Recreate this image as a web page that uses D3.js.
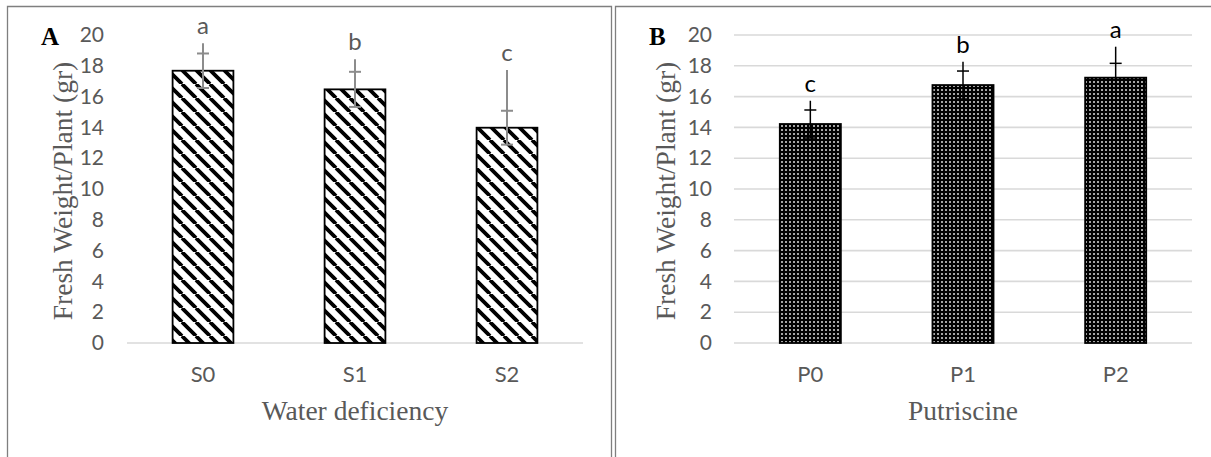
<!DOCTYPE html>
<html>
<head>
<meta charset="utf-8">
<script src="https://cdnjs.cloudflare.com/ajax/libs/d3/7.8.5/d3.min.js"></script>
<style>
  html, body { margin: 0; padding: 0; background: #fff; }
  svg { display: block; }
</style>
</head>
<body>
<svg id="chart" width="1211" height="457"></svg>
<script>
// ---------- data ----------
const yTicks = [0, 2, 4, 6, 8, 10, 12, 14, 16, 18, 20];

const catsA = ["S0", "S1", "S2"];
const valuesA = [17.68, 16.47, 13.98];
const capErrA = [1.12, 1.14, 1.1];
const lineTopA = [19.46, 18.42, 17.73];
const lettersA = ["a", "b", "c"];

const catsB = ["P0", "P1", "P2"];
const valuesB = [14.22, 16.75, 17.23];
const capErrB = [0.91, 0.91, 0.93];
const lineTopB = [15.73, 18.27, 19.24];
const lettersB = ["c", "b", "a"];

const xTitleA = "Water deficiency";
const xTitleB = "Putriscine";
const yTitle = "Fresh Weight/Plant (gr)";

// ---------- drawing ----------
const svg = d3.select("#chart");
const defs = svg.append("defs");

// diagonal hatch pattern (panel A)
const hatch = defs.append("pattern")
  .attr("id", "hatch").attr("patternUnits", "userSpaceOnUse")
  .attr("width", 14).attr("height", 14);
hatch.append("rect").attr("width", 14).attr("height", 14).attr("fill", "#fff");
hatch.append("path")
  .attr("d", "M-14,0 L0,14 M0,0 L14,14 M14,0 L28,14")
  .attr("stroke", "#000").attr("stroke-width", 3.8);

// dotted pattern (panel B)
const dots = defs.append("pattern")
  .attr("id", "dots").attr("patternUnits", "userSpaceOnUse")
  .attr("width", 4).attr("height", 4);
dots.append("rect").attr("width", 4).attr("height", 4).attr("fill", "#000");
dots.append("rect").attr("x", 1.2).attr("y", 1.2).attr("width", 1.6).attr("height", 1.6)
  .attr("fill", "#fff");

// panel borders
const border = svg.append("g").attr("fill", "none");
border.append("path").attr("d", "M7.5,457 L7.5,6.5 L611.5,6.5 L611.5,457")
  .attr("stroke", "#7f7f7f").attr("stroke-width", 1.3);
border.append("path").attr("d", "M615.5,457 L615.5,6.5 L1211,6.5")
  .attr("stroke", "#7f7f7f").attr("stroke-width", 1.3);

const y = d3.scaleLinear().domain([0, 20]).range([343, 35]);

function panel(cfg) {
  const g = svg.append("g");
  const x = d3.scaleBand().domain(cfg.cats).range(cfg.xr)
    .paddingInner(0.6).paddingOuter(0.3);

  // gridlines / baseline
  const gridVals = cfg.grid ? yTicks : [0];
  g.selectAll("line.grid").data(gridVals).join("line")
    .attr("class", "grid")
    .attr("x1", cfg.xr[0]).attr("x2", cfg.xr[1])
    .attr("y1", d => y(d)).attr("y2", d => y(d))
    .attr("stroke", "#d9d9d9").attr("stroke-width", 1.6);

  // y axis labels
  const yAxis = d3.axisLeft(y).tickValues(yTicks).tickSize(0).tickPadding(cfg.xr[0] - cfg.labelRight);
  const ya = g.append("g").attr("transform", `translate(${cfg.xr[0]},0)`).call(yAxis);
  ya.select(".domain").remove();
  ya.selectAll("text").attr("fill", "#595959")
    .style("font-family", "Lato, 'Open Sans', sans-serif").style("font-size", "21px");

  // x axis labels
  const xAxis = d3.axisBottom(x).tickSize(0).tickPadding(0);
  const xa = g.append("g").attr("transform", `translate(0,${y(0)})`).call(xAxis);
  xa.select(".domain").remove();
  xa.selectAll("text").attr("fill", "#595959").attr("dy", null).attr("y", 39)
    .style("font-family", "Lato, 'Open Sans', sans-serif").style("font-size", "22px");

  // bars
  g.selectAll("rect.bar").data(cfg.values).join("rect")
    .attr("class", "bar")
    .attr("x", (d, i) => x(cfg.cats[i]))
    .attr("width", x.bandwidth())
    .attr("y", d => y(d))
    .attr("height", d => y(0) - y(d))
    .attr("fill", `url(#${cfg.pattern})`)
    .attr("stroke", "#000").attr("stroke-width", 1.8);

  // error bars
  const eb = g.append("g").attr("stroke", cfg.errColor).attr("stroke-width", cfg.errWidth).attr("fill", "none");
  cfg.values.forEach((v, i) => {
    const cx = x(cfg.cats[i]) + x.bandwidth() / 2;
    const lo = v - cfg.capErr[i], hi = v + cfg.capErr[i];
    eb.append("line").attr("x1", cx).attr("x2", cx)
      .attr("y1", y(lo)).attr("y2", y(Math.max(hi, cfg.lineTop[i])));
    eb.append("line").attr("x1", cx - 6).attr("x2", cx + 6).attr("y1", y(hi)).attr("y2", y(hi));
    eb.append("line").attr("x1", cx - 6).attr("x2", cx + 6).attr("y1", y(lo)).attr("y2", y(lo));
    // significance letters
    g.append("text")
      .attr("x", cx).attr("y", y(cfg.lineTop[i]) - 9)
      .attr("text-anchor", "middle")
      .attr("fill", cfg.letterColor)
      .style("font-family", "Lato, 'Open Sans', sans-serif").style("font-size", "24px")
      .text(cfg.letters[i]);
  });

  // axis titles
  g.append("text")
    .attr("x", (cfg.xr[0] + cfg.xr[1]) / 2).attr("y", 420)
    .attr("text-anchor", "middle").attr("fill", "#595959")
    .style("font-family", "'Liberation Serif', 'Times New Roman', serif").style("font-size", "27.5px")
    .text(cfg.xTitle);

  g.append("text")
    .attr("transform", `translate(${cfg.yTitleX},191) rotate(-90)`)
    .attr("text-anchor", "middle").attr("fill", "#595959")
    .style("font-family", "'Liberation Serif', 'Times New Roman', serif").style("font-size", "27.5px")
    .text(yTitle);

  // panel letter
  g.append("text")
    .attr("x", cfg.letterX).attr("y", 45)
    .attr("fill", "#000").attr("font-weight", "bold")
    .style("font-family", "'Liberation Serif', 'Times New Roman', serif").style("font-size", "25px")
    .text(cfg.panelLetter);
}

panel({
  cats: catsA, values: valuesA, capErr: capErrA, lineTop: lineTopA, letters: lettersA,
  xr: [127, 583], labelRight: 104, grid: false, pattern: "hatch",
  errColor: "#8c8c8c", errWidth: 2, letterColor: "#595959",
  xTitle: xTitleA, yTitleX: 72, letterX: 41, panelLetter: "A"
});

panel({
  cats: catsB, values: valuesB, capErr: capErrB, lineTop: lineTopB, letters: lettersB,
  xr: [734, 1192], labelRight: 712, grid: true, pattern: "dots",
  errColor: "#000", errWidth: 1.5, letterColor: "#000",
  xTitle: xTitleB, yTitleX: 675, letterX: 649, panelLetter: "B"
});
</script>
</body>
</html>
